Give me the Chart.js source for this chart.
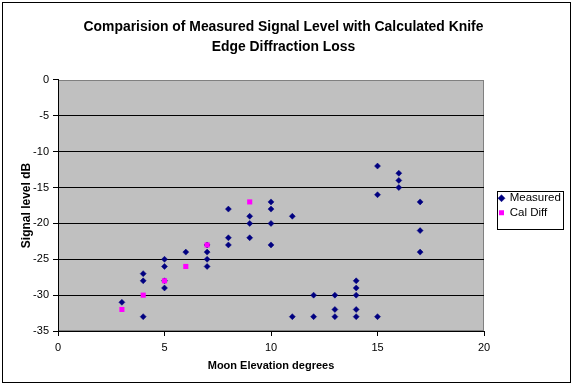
<!DOCTYPE html>
<html>
<head>
<meta charset="utf-8">
<script src="https://cdn.jsdelivr.net/npm/chart.js@4/dist/chart.umd.min.js"></script>
<style>
html,body{margin:0;padding:0;background:#fff;}
#wrap{width:575px;height:388px;position:relative;}
</style>
</head>
<body>
<div id="wrap"><canvas id="c" width="575" height="388"></canvas></div>
<script>
const titleLines = ['Comparision of Measured Signal Level with Calculated Knife', 'Edge Diffraction Loss'];
const xTitle = 'Moon Elevation degrees';
const yTitle = 'Signal level dB';
const seriesNames = ['Measured', 'Cal Diff'];

const measuredX = [3,4,4,4,5,5,5,5,6,7,7,7,7,8,8,8,9,9,9,10,10,10,10,11,11,12,12,13,13,13,14,14,14,14,14,15,15,15,16,16,16,17,17,17];
const measuredY = [-31,-27,-28,-33,-25,-26,-28,-29,-24,-23,-24,-25,-26,-18,-22,-23,-19,-20,-22,-17,-18,-20,-23,-19,-33,-30,-33,-30,-32,-33,-28,-29,-30,-32,-33,-12,-16,-33,-13,-14,-15,-17,-21,-24];
const calX = [3,4,5,6,7,9];
const calY = [-32,-30,-28,-26,-23,-17];

const xMin = 0, xMax = 20, xStep = 5;
const yMin = -35, yMax = 0, yStep = 5;

const FONT = "'Liberation Sans', Arial, sans-serif";

const toPts = (xs, ys) => xs.map((x, i) => ({x: x, y: ys[i]}));

const PLOT_LEFT = 58, PLOT_RIGHT = 484, CANVAS_W = 575;
const TITLE_CENTER = 283.5, YTITLE_X = 27;
const LEGEND_BOX_LEFT = 497, LEGEND_BOX_W = 66;
let padR = 25, padL = 17;
let yAxisWidth = PLOT_LEFT - padL;
let legendShift = 12;

const framePlugin = {
  id: 'frame',
  beforeDraw(chart) {
    const ctx = chart.ctx, a = chart.chartArea;
    ctx.save();
    ctx.fillStyle = '#ffffff';
    ctx.fillRect(0, 0, chart.width, chart.height);
    ctx.fillStyle = '#c0c0c0';
    ctx.fillRect(a.left, a.top, a.right - a.left, a.bottom - a.top);
    ctx.strokeStyle = '#808080';
    ctx.lineWidth = 1;
    ctx.strokeRect(a.left + 0.5, a.top + 0.5, a.right - a.left - 1, a.bottom - a.top - 1);
    ctx.restore();
  },
  afterLayout(chart) {
    const lg = chart.legend;
    if (lg) {
      legendShift = (LEGEND_BOX_LEFT + 2 - 3) - lg.left;
      lg.left += legendShift; lg.right += legendShift;
    }
  },
  afterDraw(chart) {
    const ctx = chart.ctx;
    ctx.save();
    ctx.strokeStyle = '#000';
    ctx.lineWidth = 1;
    ctx.strokeRect(2.5, 2.5, 568, 380);
    const lg = chart.legend;
    if (lg && lg.legendHitBoxes && lg.legendHitBoxes.length) {
      const hb = lg.legendHitBoxes;
      let t = Infinity, b = -Infinity, l = Infinity, r = -Infinity;
      hb.forEach(h => {
        t = Math.min(t, h.top); b = Math.max(b, h.top + h.height);
        l = Math.min(l, h.left); r = Math.max(r, h.left + h.width);
      });
      const L = Math.round(l - 2), T = Math.round(t - 1), B = Math.round(b + 11);
      const R = Math.round(Math.max(L + LEGEND_BOX_W, r + 2));
      ctx.strokeRect(L + 0.5, T + 0.5, R - L, B - T);
    }
    ctx.restore();
  }
};

const chart = new Chart(document.getElementById('c'), {
  type: 'scatter',
  data: {
    datasets: [
      {
        label: seriesNames[0],
        data: toPts(measuredX, measuredY),
        pointStyle: 'rectRot',
        pointRadius: 3,
        pointHoverRadius: 3,
        backgroundColor: '#000080',
        borderColor: '#000080',
        borderWidth: 0.5,
        order: 1
      },
      {
        label: seriesNames[1],
        data: toPts(calX, calY),
        pointStyle: 'rect',
        pointRadius: 3.6,
        pointHoverRadius: 3.6,
        backgroundColor: '#ff00ff',
        borderColor: '#ff00ff',
        borderWidth: 0,
        order: 0
      }
    ]
  },
  options: {
    responsive: false,
    animation: false,
    events: [],
    layout: { padding: { left: padL, top: 0, right: padR, bottom: 0 } },
    plugins: {
      title: {
        display: true,
        text: titleLines,
        color: '#000',
        font: { family: FONT, size: 13.9, weight: 'bold', lineHeight: 1.41 },
        padding: { top: 17.5, bottom: 23.3 }
      },
      legend: {
        display: true,
        position: 'right',
        fullSize: false,
        align: 'center',
        labels: {
          usePointStyle: true,
          boxWidth: 5,
          boxHeight: 5,
          padding: 3,
          color: '#000',
          font: { family: FONT, size: 11.5, lineHeight: 1.15 },
          sort: (a, b) => a.datasetIndex - b.datasetIndex
        }
      },
      tooltip: { enabled: false }
    },
    scales: {
      x: {
        type: 'linear',
        min: xMin, max: xMax,
        ticks: { stepSize: xStep, color: '#000', font: { family: FONT, size: 11 }, padding: 5, maxRotation: 0 },
        grid: { drawOnChartArea: false, color: '#000', tickLength: 5, tickColor: '#000' },
        border: { color: '#000', width: 1 },
        title: { display: true, text: xTitle, color: '#000', font: { family: FONT, size: 11, weight: 'bold' }, padding: { top: 4, bottom: 15 } },
        afterFit: s => { s.height = 57; }
      },
      y: {
        type: 'linear',
        min: yMin, max: yMax,
        ticks: { stepSize: yStep, color: '#000', font: { family: FONT, size: 11 }, padding: 4 },
        grid: {
          color: c => (c.tick && (c.tick.value === yMax || c.tick.value === yMin)) ? 'rgba(0,0,0,0)' : '#000',
          tickColor: '#000',
          tickLength: 5
        },
        border: { color: '#000', width: 1 },
        title: { display: true, text: yTitle, color: '#000', font: { family: FONT, size: 12, weight: 'bold' }, padding: { top: Math.max(0, YTITLE_X - 7.2 - padL), bottom: 0 } },
        afterFit: s => { s.width = yAxisWidth; }
      }
    }
  },
  plugins: [framePlugin]
});

for (let k = 0; k < 4; k++) {
  const dx = chart.chartArea.right - PLOT_RIGHT;
  const dl = chart.chartArea.left - PLOT_LEFT;
  if (Math.abs(dx) <= 0.25 && Math.abs(dl) <= 0.25) break;
  padR += dx;
  padL = Math.min(19, Math.max(0, padR - (CANVAS_W - 2 * TITLE_CENTER)));
  yAxisWidth = PLOT_LEFT - padL;
  chart.options.layout.padding.right = padR;
  chart.options.layout.padding.left = padL;
  chart.options.scales.y.title.padding = { top: Math.max(0, YTITLE_X - 7.2 - padL), bottom: 0 };
  chart.update();
}
</script>
</body>
</html>
